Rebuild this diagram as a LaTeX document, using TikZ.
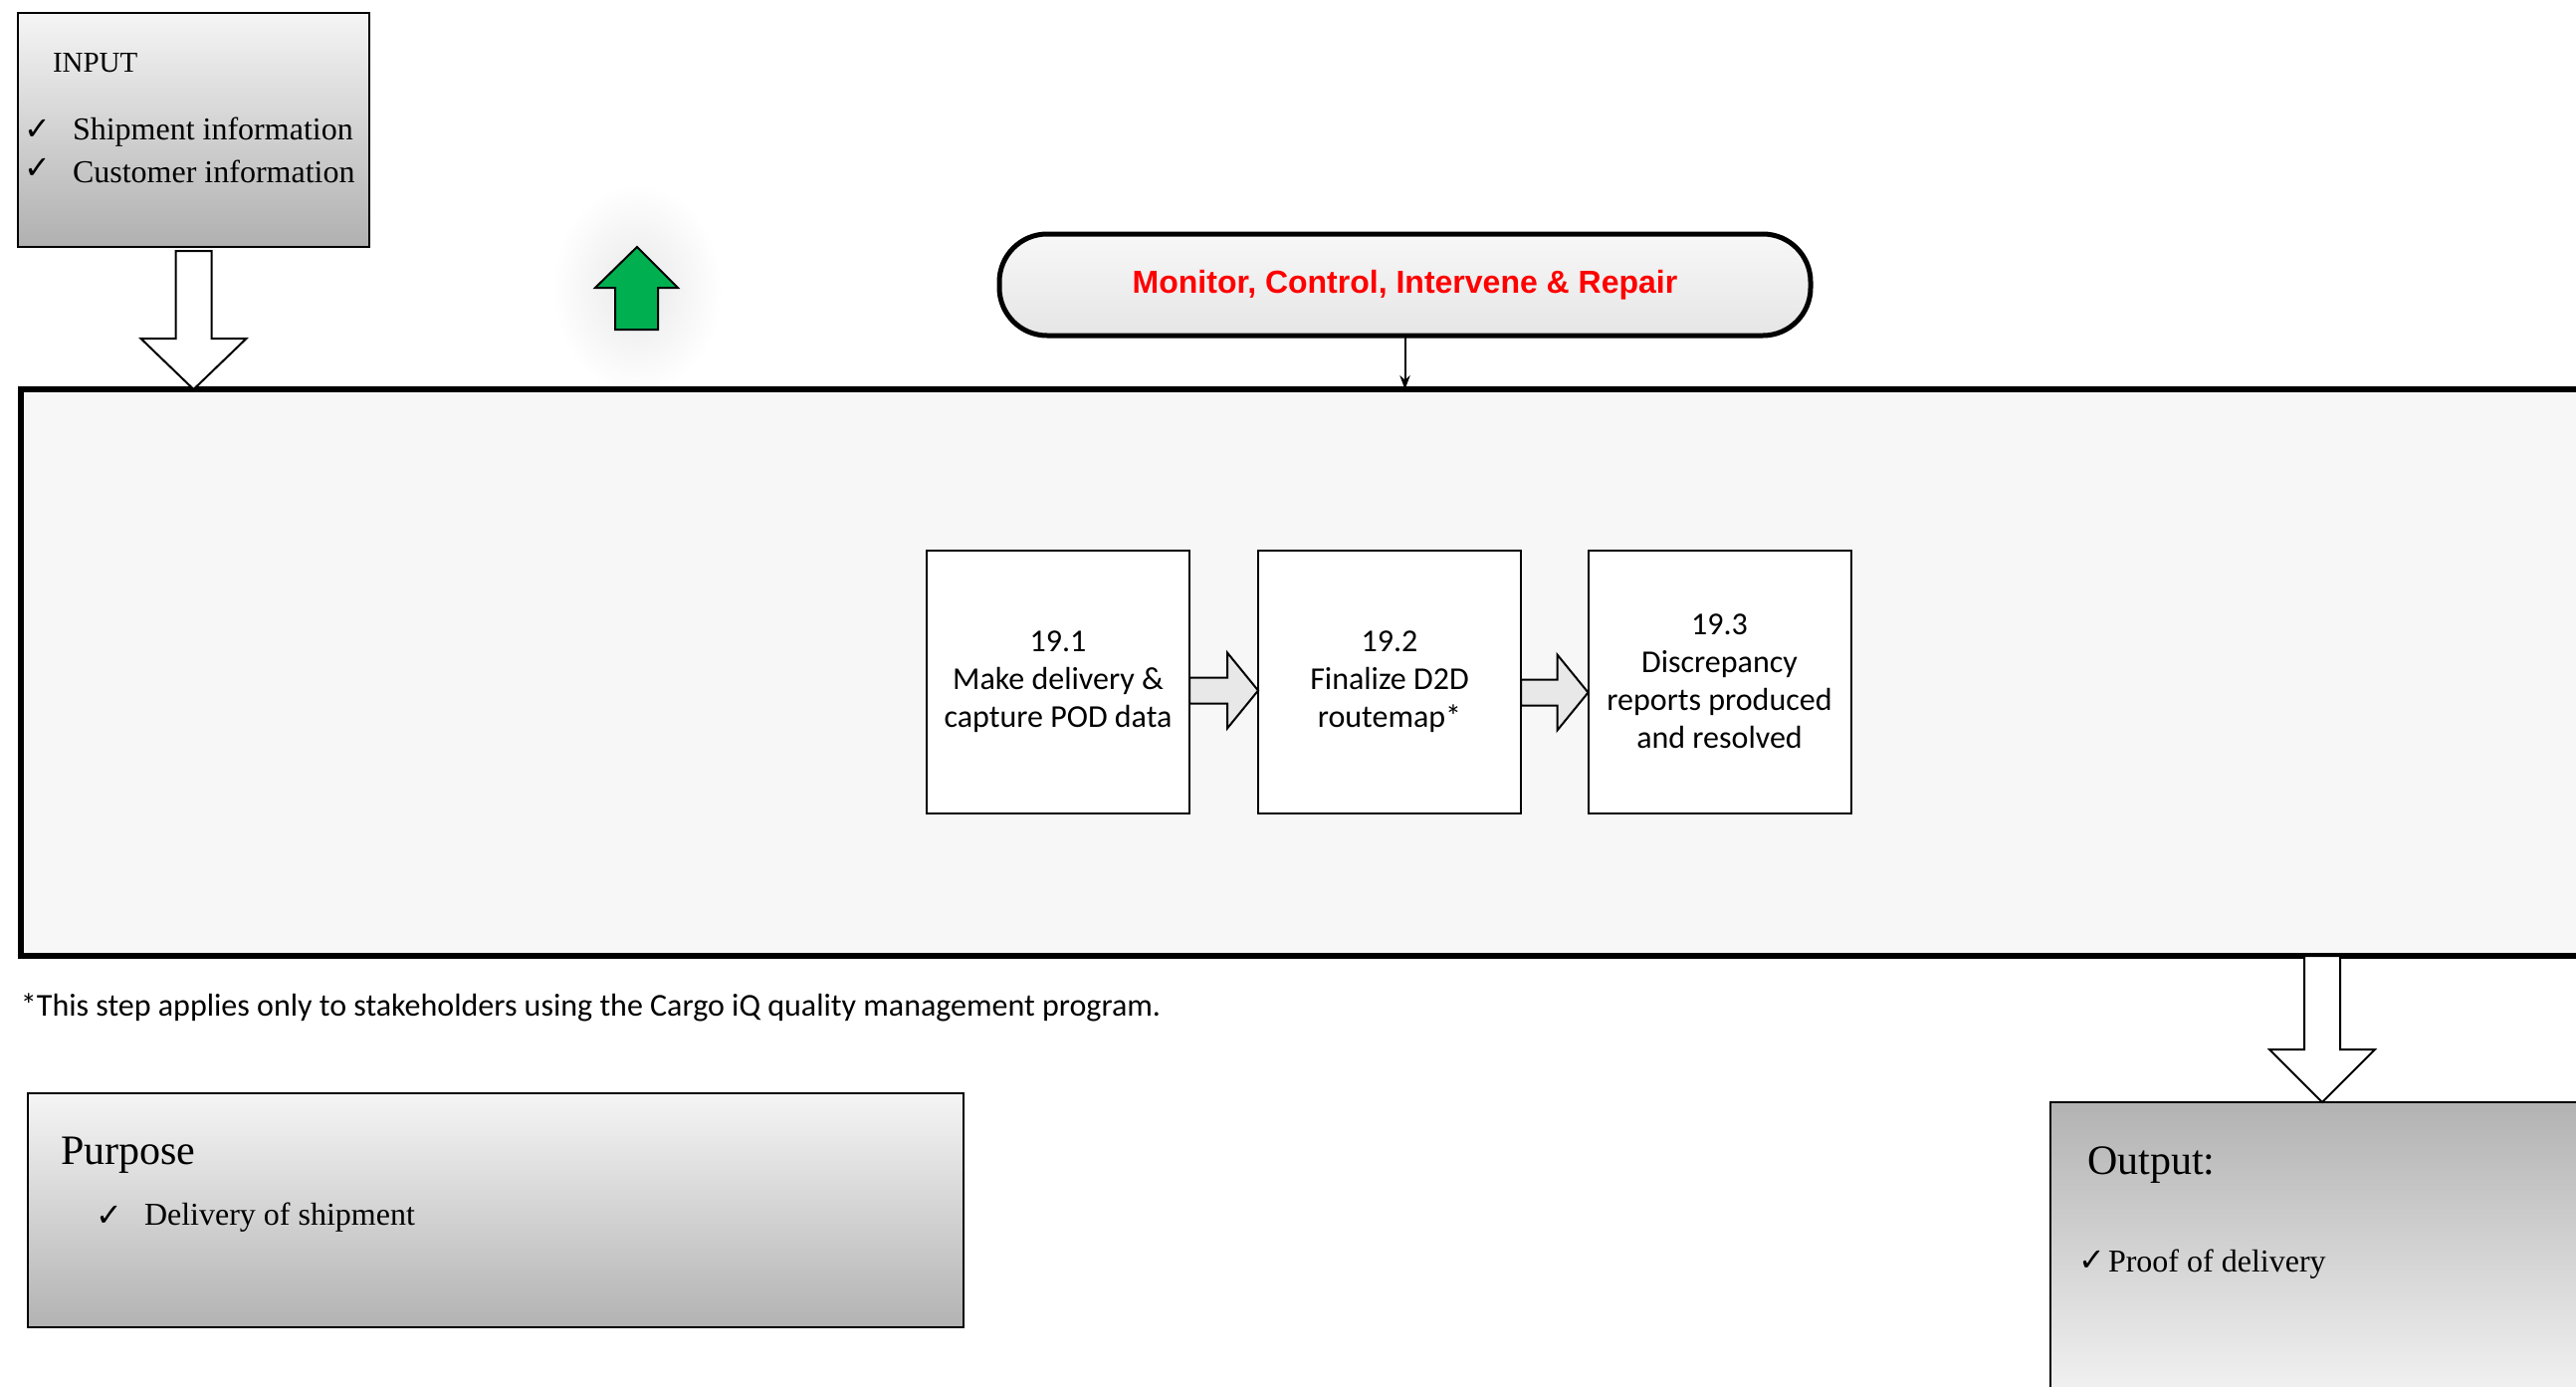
\documentclass[tikz,border=0pt]{standalone}
\usepackage{fontspec}
\setmainfont{Liberation Serif}
\newfontfamily\calibri{Carlito}
\newfontfamily\arialf{Liberation Sans}
\newfontfamily\djv{DejaVu Sans}
\usetikzlibrary{arrows.meta,calc}
\definecolor{grn}{HTML}{00B050}
\definecolor{bgmain}{HTML}{F7F7F7}
\definecolor{arrgray}{HTML}{E8E8E8}
\newcommand\blockdown[6]{%
  \draw[#6] let \p1=#1, \p2=#2 in
   (\x1-#3*0.25pt,\y1) -- (\x1+#3*0.25pt,\y1) -- (\x1+#3*0.25pt,\y2+#5*0.25pt)
   -- (\x1+#4*0.25pt,\y2+#5*0.25pt) -- (\x1,\y2) -- (\x1-#4*0.25pt,\y2+#5*0.25pt)
   -- (\x1-#3*0.25pt,\y2+#5*0.25pt) -- cycle;}
\newcommand\blockright[6]{%
  \draw[#6] let \p1=#1, \p2=#2 in
   (\x1,\y1+#3*0.25pt) -- (\x2-#5*0.25pt,\y1+#3*0.25pt) -- (\x2-#5*0.25pt,\y1+#4*0.25pt)
   -- (\x2,\y1) -- (\x2-#5*0.25pt,\y1-#4*0.25pt) -- (\x2-#5*0.25pt,\y1-#3*0.25pt)
   -- (\x1,\y1-#3*0.25pt) -- cycle;}
\begin{document}
\begin{tikzpicture}[x=0.25pt,y=-0.25pt,
  every node/.style={inner sep=0pt, outer sep=0pt},
  gradbox/.style={draw=black, line width=0.5pt, rectangle, anchor=north west},
  stepbox/.style={draw=black, line width=0.5pt, fill=white, minimum width=66pt,
    minimum height=66pt, align=center, font=\calibri\fontsize{8}{9.5}\selectfont},
  txt/.style={anchor=west, font=\fontsize{8}{9.6}\selectfont},
  bigtxt/.style={anchor=west, font=\fontsize{10.5}{12}\selectfont},
  chk/.style={anchor=west, font=\djv\fontsize{8}{9}\selectfont},
  barrow/.style={draw=black, line width=0.5pt, fill=white, line join=miter},
  sarrow/.style={draw=black, line width=0.5pt, fill=arrgray, line join=miter}
]
\useasboundingbox (0,0) rectangle (2588,1392);
\clip (0,0) rectangle (2588,1392);
\fill[white] (0,0) rectangle (2588,1392);

% input box
\node[gradbox, top color=black!4, bottom color=black!31, minimum width=88.25pt, minimum height=58.75pt] (inp) at (18,13) {};
\node[anchor=west, font=\fontsize{7.25}{8}\selectfont] (inptitle) at (53,63) {INPUT};
\node[chk] (c1) at (24,130) {✓};
\node[txt] (t1) at (73,133) {Shipment information};
\node[chk] (c2) at (24,169) {✓};
\node[txt] (t2) at (73,172) {Customer information};

% green arrow with glow
\shade[inner color=black!9, outer color=white] (640,290) ellipse [x radius=85, y radius=105];
\draw[draw=black, line width=0.5pt, fill=grn, line join=miter] (640,248) -- (681,289) -- (661,289) -- (661,331) -- (618,331) -- (618,289) -- (598,289) -- cycle;

% main process area
\node[draw=black, line width=1.5pt, fill=bgmain, anchor=north west, minimum width=654.75pt, minimum height=142.25pt] (main) at (21,391) {};

% monitor pill
\node[draw=black, line width=1.25pt, rounded corners=12pt, top color=black!3, bottom color=black!10,
  minimum width=203.75pt, minimum height=25.5pt,
  font=\arialf\bfseries\fontsize{8}{9.6}\selectfont, text=red] (mon) at (1411.5,286) {Monitor, Control, Intervene \& Repair};
\draw[line width=0.5pt, -{Stealth[length=3.5pt,width=2.6pt]}] (mon.south) -- (mon.south |- main.north);

% input arrow
\blockdown{($(inp.south)+(0,4)$)}{(inp.south |- main.north)}{18}{53}{51}{barrow}

% steps
\node[stepbox] (b1) at (1063,684.5) {19.1\\Make delivery \&\\capture POD data};
\node[stepbox] (b2) at (1396,684.5) {19.2\\Finalize D2D\\routemap*};
\node[stepbox] (b3) at (1727.5,684.5) {19.3\\Discrepancy\\reports produced\\and resolved};
\blockright{($(b1.east)+(0,9)$)}{($(b2.west)+(0,9)$)}{13}{38}{31}{sarrow}
\blockright{($(b2.east)+(0,11)$)}{($(b3.west)+(0,11)$)}{13}{38}{31}{sarrow}

% footnote
\node[anchor=west, font=\calibri\fontsize{8}{9.6}\selectfont] (foot) at (21,1012) {*This step applies only to stakeholders using the Cargo iQ quality management program.};

% purpose box
\node[gradbox, top color=black!4, bottom color=black!30, minimum width=235pt, minimum height=58.75pt] (purp) at (28,1098) {};
\node[bigtxt] (ptitle) at (61,1160) {Purpose};
\node[chk] (c3) at (96,1221) {✓};
\node[txt] (t3) at (145,1223) {Delivery of shipment};

% output box
\node[gradbox, top color=black!30, bottom color=black!5, minimum width=145pt, minimum height=74pt] (out) at (2060,1107) {};
\node[bigtxt] (otitle) at (2097,1170) {Output:};
\node[chk] (c4) at (2088,1266) {✓};
\node[txt] (t4) at (2118,1270) {Proof of delivery};

% output arrow
\coordinate (otip) at ($(out.north west)+(273,0)$);
\blockdown{(otip |- main.south)}{(otip)}{18}{53}{53}{barrow}
\end{tikzpicture}
\end{document}
